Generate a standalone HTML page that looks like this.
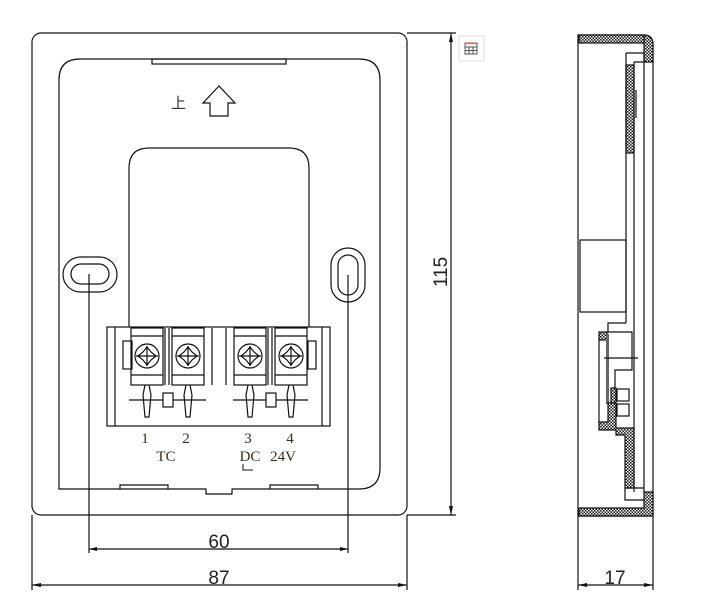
<!DOCTYPE html>
<html><head><meta charset="utf-8"><style>
html,body{margin:0;padding:0;background:#fff;}
svg{display:block;}
text{font-family:"Liberation Sans","DejaVu Sans",sans-serif;}
.s text{font-family:"Liberation Serif","Noto Serif CJK SC",serif;fill:#3a2c1c;}
</style></head><body>
<svg width="718" height="614" viewBox="0 0 718 614" xmlns="http://www.w3.org/2000/svg">
<defs>
<pattern id="h" width="3" height="3" patternUnits="userSpaceOnUse">
<rect width="3" height="3" fill="#fff"/><rect width="1.5" height="1.5" fill="#111"/><rect x="1.5" y="1.5" width="1.5" height="1.5" fill="#111"/>
</pattern>
</defs>
<g fill="none" stroke="#111" stroke-width="1.2">
<rect x="32" y="33" width="375" height="482" rx="9"/>
<path d="M59,489 V80 Q59,59 80,59 H359 Q380,59 380,80 V468 Q380,489 359,489 H232 V494 H206 V489 Z"/>
<rect x="152" y="59" width="134" height="5"/>
<path d="M120,489 V485 H168 V489 M270,489 V485 H318 V489"/>
<path d="M129,327 V168 Q129,148 149,148 H289 Q309,148 309,168 V327"/>
<polygon points="219,86 203,103 210,103 210,116 228,116 228,103 235,103"/>
<rect x="63" y="257" width="54" height="35" rx="17.5"/>
<rect x="71" y="264" width="38" height="20" rx="10"/>
<rect x="331" y="248" width="34" height="54" rx="17"/>
<rect x="338" y="255" width="20" height="40" rx="10"/>
<line x1="89" y1="274" x2="89" y2="553"/>
<line x1="348" y1="275" x2="348" y2="553"/>
<line x1="32" y1="515" x2="32" y2="590"/>
<line x1="407" y1="515" x2="407" y2="590"/>
<line x1="407" y1="33" x2="456" y2="33"/>
<line x1="407" y1="515" x2="456" y2="515"/>
<line x1="451" y1="33" x2="451" y2="515"/>
<line x1="89" y1="549" x2="348" y2="549"/>
<line x1="32" y1="585" x2="407" y2="585"/>
<rect x="107" y="327" width="223" height="99"/>
<line x1="115" y1="327" x2="115" y2="426"/>
<line x1="322" y1="327" x2="322" y2="426"/>
<rect x="123" y="341" width="9" height="28"/>
<rect x="308" y="341" width="8" height="28"/>
<line x1="165" y1="328" x2="165" y2="385"/><line x1="169" y1="328" x2="169" y2="385"/>
<line x1="268" y1="328" x2="268" y2="385"/><line x1="272" y1="328" x2="272" y2="385"/>
<line x1="212" y1="328" x2="212" y2="385"/><line x1="226" y1="328" x2="226" y2="385"/>
<g id="t">
<rect x="131" y="328" width="32" height="57"/>
<line x1="131" y1="336" x2="163" y2="336"/>
<line x1="131" y1="375" x2="163" y2="375"/>
<circle cx="147" cy="356" r="12"/>
<path d="M147,347 L151,352 L156,356 L151,360 L147,365 L143,360 L138,356 L143,352 Z"/>
<line x1="136" y1="356" x2="158" y2="356"/>
<line x1="147" y1="346" x2="147" y2="366"/>
<path d="M145,385 L143,395 L145,417 H149 L151,395 L149,385"/>
</g>
<use href="#t" x="41"/>
<use href="#t" x="103"/>
<use href="#t" x="144"/>
<line x1="129" y1="400" x2="206" y2="400"/>
<line x1="233" y1="400" x2="308" y2="400"/>
<rect x="163" y="393" width="10" height="14" fill="#fff"/>
<rect x="266" y="393" width="10" height="14" fill="#fff"/>
<path d="M243,464 V470 H253" stroke-width="1"/>
<path d="M578,35 V516 H653 V45 Q653,35 643,35 Z"/>
<rect x="579" y="35" width="66" height="8" fill="url(#h)"/>
<path d="M644,35 Q653,35 653,45 V62 H644 Z" fill="url(#h)"/>
<path d="M626,53 H644 V62 H634"/>
<rect x="626" y="65" width="8" height="88" fill="url(#h)"/>
<line x1="626" y1="53" x2="626" y2="323"/>
<line x1="634" y1="62" x2="634" y2="492"/>
<line x1="644" y1="62" x2="644" y2="492"/>
<line x1="636" y1="90" x2="636" y2="118"/>
<rect x="580" y="240" width="46" height="72"/>
<path d="M626,323 H608 V332"/>
<rect x="599" y="332" width="8" height="8" fill="url(#h)"/>
<line x1="599" y1="340" x2="599" y2="422"/>
<rect x="606" y="334" width="3" height="70" fill="#666" stroke="none"/>
<path d="M607,332 H632 V370 H615 V388"/>
<line x1="604" y1="358" x2="638" y2="358"/>
<rect x="611" y="388" width="5" height="15" fill="url(#h)"/>
<rect x="617" y="389" width="12" height="12"/>
<rect x="617" y="404" width="12" height="12"/>
<path d="M608,403 H616 V428 H634 V488 H625 V435 H616 V430 H599 V422 H608 Z" fill="url(#h)"/>
<path d="M625,488 H644 M625,488 V500 H644"/>
<path d="M644,492 H653 V516 H579 V508 H644 Z" fill="url(#h)"/>
<line x1="578" y1="516" x2="578" y2="590"/>
<line x1="653" y1="516" x2="653" y2="590"/>
<line x1="578" y1="585" x2="653" y2="585"/>
</g>
<g fill="#111">
<polygon points="89,549 97,547 97,551"/><polygon points="348,549 340,547 340,551"/>
<polygon points="32,585 41,583 41,587"/><polygon points="407,585 398,583 398,587"/>
<polygon points="451,33 449,42 453,42"/><polygon points="451,515 449,506 453,506"/>
<polygon points="578,585 587,583 587,587"/><polygon points="653,585 644,583 644,587"/>
</g>
<g fill="#222" font-size="19">
<text x="219" y="548" text-anchor="middle">60</text>
<text x="219" y="584" text-anchor="middle">87</text>
<text x="615" y="584" text-anchor="middle">17</text>
<text transform="translate(447,272) rotate(-90)" text-anchor="middle">115</text>
</g>
<text x="171" y="108" font-size="15" fill="#333" style="font-family:'Noto Sans CJK SC',sans-serif">上</text>
<g class="s" font-size="15" text-anchor="middle">
<text x="145" y="443">1</text><text x="186" y="443">2</text>
<text x="248" y="443">3</text><text x="290" y="443">4</text>
<text x="166" y="461">TC</text><text x="250" y="461">DC</text><text x="283" y="461">24V</text>
</g>
<rect x="459" y="36" width="25" height="25" fill="#fff" stroke="#ddd"/>
<g fill="none" stroke="#555" stroke-width="1">
<rect x="465" y="43" width="12" height="11"/>
<line x1="465" y1="47" x2="477" y2="47"/><line x1="465" y1="50.5" x2="477" y2="50.5"/>
<line x1="469" y1="47" x2="469" y2="54"/><line x1="473" y1="47" x2="473" y2="54"/>
</g>
<line x1="465" y1="43.5" x2="477" y2="43.5" stroke="#e66" stroke-width="1.5"/>
</svg>
</body></html>
